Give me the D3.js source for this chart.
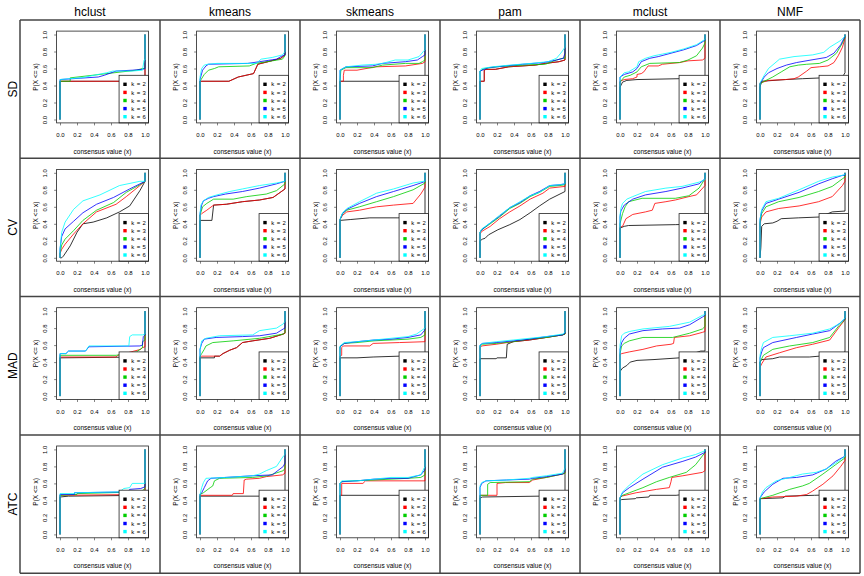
<!DOCTYPE html>
<html><head><meta charset="utf-8">
<script src="https://cdn.jsdelivr.net/npm/d3@7"></script>
<style>
body{margin:0;background:#fff}
svg{display:block}
text{font-family:"Liberation Sans", Arial, Helvetica, sans-serif;fill:#000}
</style>
</head><body>
<svg id="chart" width="864" height="576"></svg>
<script>
// ---------------- data ----------------
const methods = ["hclust", "kmeans", "skmeans", "pam", "mclust", "NMF"];
const topValueMethods = ["SD", "CV", "MAD", "ATC"];
const kLabels = ["k = 2", "k = 3", "k = 4", "k = 5", "k = 6"];
const xTicks = [0, 0.2, 0.4, 0.6, 0.8, 1.0];
const yTicks = [0, 0.2, 0.4, 0.6, 0.8, 1.0];
const xTitle = "consensus value (x)";
const yTitle = "P(X <= x)";

// ECDF curves, one list per row: [method][k] -> [[x, F(x)], ...]
const ecdfSD = [
  [ // hclust
    [[0,0.45],[0.97,0.45],[1,0.46]],
    [[0,0.45],[0.97,0.45],[1,0.46]],
    [[0,0.45],[0.12,0.45],[0.12,0.49],[0.9,0.58],[0.97,0.6],[1,0.6]],
    [[0,0.47],[0.15,0.48],[0.45,0.5],[0.52,0.52],[0.66,0.57],[0.85,0.58],[0.97,0.59],[1,0.6]],
    [[0,0.47],[0.1,0.48],[0.25,0.49],[0.35,0.51],[0.45,0.53],[0.55,0.55],[0.62,0.57],[0.85,0.57],[0.97,0.58],[0.99,0.7],[1,0.7]]
  ],
  [ // kmeans
    [[0,0.45],[0.34,0.45],[0.45,0.5],[0.63,0.54],[0.68,0.65],[0.8,0.68],[0.95,0.72],[1,0.76]],
    [[0,0.45],[0.34,0.45],[0.45,0.5],[0.63,0.54],[0.68,0.65],[0.8,0.68],[0.95,0.72],[1,0.76]],
    [[0,0.45],[0.05,0.53],[0.1,0.58],[0.17,0.6],[0.22,0.62],[0.58,0.63],[0.66,0.66],[0.85,0.69],[0.97,0.71],[1,0.75]],
    [[0,0.47],[0.03,0.58],[0.07,0.63],[0.1,0.65],[0.56,0.66],[0.7,0.68],[0.9,0.71],[0.97,0.75],[1,0.76]],
    [[0,0.5],[0.02,0.6],[0.05,0.64],[0.09,0.65],[0.2,0.66],[0.66,0.66],[0.72,0.71],[0.85,0.73],[0.97,0.76],[1,0.8]]
  ],
  [ // skmeans
    [[0,0.45],[1,0.45]],
    [[0,0.45],[0.04,0.45],[0.04,0.52],[0.05,0.58],[0.2,0.58],[0.42,0.62],[0.77,0.63],[0.97,0.66],[1,0.68]],
    [[0,0.45],[0.01,0.58],[0.07,0.61],[0.38,0.61],[0.5,0.64],[0.77,0.66],[0.93,0.66],[0.97,0.68],[1,0.7]],
    [[0,0.58],[0.07,0.62],[0.38,0.63],[0.5,0.66],[0.77,0.68],[0.91,0.7],[0.97,0.74],[1,0.76]],
    [[0,0.58],[0.07,0.62],[0.26,0.64],[0.42,0.65],[0.5,0.66],[0.65,0.7],[0.8,0.7],[0.93,0.74],[0.98,0.8],[1,0.82]]
  ],
  [ // pam
    [[0,0.45],[0.05,0.45],[0.05,0.58],[0.07,0.59],[0.18,0.59],[0.34,0.62],[0.65,0.64],[0.77,0.66],[0.93,0.68],[1,0.7]],
    [[0,0.45],[0.05,0.45],[0.05,0.58],[0.07,0.59],[0.18,0.59],[0.34,0.62],[0.65,0.64],[0.77,0.66],[0.93,0.68],[1,0.7]],
    [[0,0.57],[0.05,0.6],[0.2,0.62],[0.5,0.64],[0.77,0.65],[0.9,0.7],[0.97,0.72],[1,0.72]],
    [[0,0.57],[0.1,0.61],[0.3,0.63],[0.5,0.65],[0.75,0.67],[0.9,0.7],[0.98,0.72],[1,0.78]],
    [[0,0.57],[0.02,0.6],[0.15,0.62],[0.35,0.64],[0.6,0.66],[0.8,0.68],[0.9,0.72],[0.95,0.78],[1,0.85]]
  ],
  [ // mclust
    [[0,0.38],[0.03,0.44],[0.08,0.46],[0.2,0.47],[0.7,0.48],[1,0.5]],
    [[0,0.45],[0.05,0.47],[0.15,0.48],[0.2,0.5],[0.2,0.53],[0.25,0.54],[0.28,0.56],[0.33,0.63],[0.45,0.63],[0.5,0.65],[0.7,0.67],[0.8,0.69],[0.97,0.7],[1,0.72]],
    [[0,0.44],[0.05,0.5],[0.12,0.52],[0.2,0.56],[0.25,0.62],[0.35,0.66],[0.7,0.67],[0.8,0.7],[0.9,0.75],[0.97,0.84],[1,0.9]],
    [[0,0.5],[0.05,0.53],[0.15,0.56],[0.2,0.6],[0.25,0.68],[0.35,0.72],[0.45,0.74],[0.6,0.78],[0.75,0.82],[0.9,0.87],[0.98,0.92],[1,0.93]],
    [[0,0.5],[0.05,0.55],[0.1,0.56],[0.2,0.62],[0.22,0.68],[0.3,0.72],[0.4,0.75],[0.5,0.77],[0.6,0.79],[0.75,0.83],[0.9,0.88],[0.98,0.93],[1,0.94]]
  ],
  [ // NMF
    [[0,0.38],[0.02,0.45],[0.3,0.47],[0.5,0.48],[0.97,0.5],[1,0.55]],
    [[0,0.43],[0.1,0.46],[0.3,0.47],[0.4,0.48],[0.45,0.5],[0.55,0.57],[0.6,0.61],[0.7,0.62],[0.8,0.63],[0.87,0.67],[0.92,0.75],[0.97,0.85],[1,0.96]],
    [[0,0.42],[0.05,0.45],[0.15,0.5],[0.25,0.56],[0.35,0.62],[0.45,0.64],[0.55,0.65],[0.7,0.66],[0.8,0.7],[0.9,0.78],[0.97,0.9],[1,0.97]],
    [[0,0.42],[0.05,0.5],[0.1,0.55],[0.2,0.6],[0.31,0.64],[0.43,0.67],[0.6,0.7],[0.78,0.73],[0.87,0.78],[0.95,0.88],[1,0.98]],
    [[0,0.43],[0.05,0.52],[0.1,0.6],[0.23,0.71],[0.4,0.74],[0.62,0.76],[0.75,0.79],[0.82,0.85],[0.95,0.93],[1,0.98]]
  ]
];

const ecdfCV = [
  [ // hclust
    [[0.02,0],[0.04,0.02],[0.12,0.14],[0.2,0.3],[0.27,0.4],[0.39,0.42],[0.55,0.47],[0.7,0.54],[0.82,0.61],[0.94,0.79],[1,0.9]],
    [[0,0.05],[0.02,0.1],[0.06,0.16],[0.16,0.28],[0.27,0.4],[0.43,0.54],[0.66,0.63],[0.78,0.72],[0.94,0.85],[1,0.9]],
    [[0,0.05],[0.02,0.15],[0.06,0.22],[0.16,0.32],[0.27,0.44],[0.43,0.56],[0.63,0.65],[0.78,0.77],[0.94,0.86],[1,0.9]],
    [[0,0.1],[0.02,0.25],[0.06,0.34],[0.16,0.43],[0.27,0.53],[0.43,0.63],[0.63,0.71],[0.82,0.81],[0.94,0.87],[1,0.9]],
    [[0,0.1],[0.02,0.3],[0.06,0.42],[0.16,0.57],[0.27,0.67],[0.47,0.74],[0.7,0.85],[0.94,0.9],[1,0.9]]
  ],
  [ // kmeans
    [[0,0.44],[0.14,0.44],[0.16,0.62],[0.31,0.63],[0.5,0.66],[0.7,0.68],[0.86,0.71],[1,0.81]],
    [[0,0.5],[0.02,0.52],[0.08,0.56],[0.16,0.62],[0.31,0.63],[0.5,0.66],[0.7,0.68],[0.86,0.71],[1,0.81]],
    [[0,0.5],[0.03,0.6],[0.08,0.64],[0.16,0.69],[0.39,0.69],[0.55,0.72],[0.78,0.75],[0.9,0.79],[1,0.87]],
    [[0,0.52],[0.02,0.62],[0.04,0.67],[0.1,0.7],[0.16,0.72],[0.3,0.75],[0.5,0.78],[0.7,0.82],[0.9,0.87],[1,0.9]],
    [[0,0.52],[0.01,0.62],[0.04,0.67],[0.1,0.71],[0.2,0.74],[0.35,0.78],[0.5,0.81],[0.7,0.85],[0.9,0.88],[1,0.9]]
  ],
  [ // skmeans
    [[0,0.44],[0.12,0.45],[0.35,0.47],[0.68,0.47],[1,0.48]],
    [[0,0.45],[0.03,0.5],[0.08,0.54],[0.23,0.56],[0.43,0.6],[0.63,0.62],[0.86,0.64],[0.95,0.75],[1,0.83]],
    [[0,0.45],[0.03,0.52],[0.08,0.56],[0.23,0.6],[0.43,0.66],[0.63,0.72],[0.86,0.8],[1,0.88]],
    [[0,0.45],[0.03,0.52],[0.08,0.57],[0.23,0.64],[0.43,0.72],[0.63,0.78],[0.86,0.85],[0.98,0.89],[1,0.9]],
    [[0,0.45],[0.03,0.53],[0.08,0.58],[0.23,0.66],[0.43,0.76],[0.63,0.81],[0.86,0.88],[0.98,0.9],[1,0.9]]
  ],
  [ // pam
    [[0,0.2],[0.03,0.22],[0.06,0.23],[0.1,0.27],[0.21,0.33],[0.35,0.39],[0.47,0.45],[0.59,0.53],[0.7,0.61],[0.82,0.69],[1,0.78]],
    [[0,0.28],[0.02,0.31],[0.12,0.37],[0.23,0.46],[0.35,0.54],[0.47,0.61],[0.59,0.69],[0.74,0.76],[0.82,0.82],[1,0.84]],
    [[0,0.3],[0.02,0.33],[0.12,0.4],[0.23,0.48],[0.35,0.58],[0.47,0.64],[0.59,0.72],[0.7,0.77],[0.82,0.84],[0.94,0.85],[1,0.86]],
    [[0,0.3],[0.02,0.33],[0.12,0.41],[0.23,0.49],[0.35,0.59],[0.47,0.65],[0.59,0.73],[0.7,0.78],[0.82,0.85],[0.94,0.86],[1,0.87]],
    [[0,0.3],[0.02,0.34],[0.12,0.41],[0.23,0.5],[0.35,0.59],[0.47,0.66],[0.59,0.73],[0.7,0.77],[0.82,0.85],[0.94,0.86],[1,0.87]]
  ],
  [ // mclust
    [[0,0.35],[0.05,0.37],[0.1,0.38],[0.65,0.39],[1,0.4]],
    [[0,0.36],[0.03,0.37],[0.07,0.46],[0.15,0.51],[0.3,0.54],[0.38,0.56],[0.41,0.64],[0.54,0.66],[0.65,0.68],[0.81,0.72],[0.9,0.74],[1,0.85]],
    [[0,0.4],[0.03,0.52],[0.06,0.6],[0.1,0.66],[0.26,0.7],[0.65,0.7],[0.81,0.73],[0.93,0.82],[1,0.93]],
    [[0,0.48],[0.01,0.55],[0.05,0.62],[0.15,0.69],[0.3,0.74],[0.54,0.78],[0.73,0.82],[0.93,0.87],[1,0.93]],
    [[0,0.5],[0.01,0.58],[0.03,0.64],[0.08,0.69],[0.15,0.72],[0.3,0.78],[0.54,0.82],[0.73,0.84],[0.93,0.89],[1,0.92]]
  ],
  [ // NMF
    [[0.01,0.12],[0.02,0.37],[0.05,0.4],[0.15,0.41],[0.2,0.43],[0.25,0.46],[0.45,0.47],[0.7,0.48],[0.85,0.54],[1,0.55]],
    [[0,0.4],[0.02,0.48],[0.07,0.54],[0.22,0.58],[0.46,0.61],[0.69,0.66],[0.85,0.72],[0.97,0.85],[1,0.9]],
    [[0,0.42],[0.02,0.52],[0.07,0.6],[0.22,0.66],[0.46,0.71],[0.69,0.78],[0.85,0.84],[0.97,0.93],[1,0.95]],
    [[0,0.45],[0.02,0.55],[0.07,0.64],[0.22,0.69],[0.46,0.77],[0.69,0.87],[0.85,0.93],[0.97,0.97],[1,0.97]],
    [[0,0.45],[0.02,0.57],[0.07,0.66],[0.22,0.7],[0.46,0.8],[0.69,0.9],[0.85,0.95],[0.97,0.97],[1,0.98]]
  ]
];

const ecdfMAD = [
  [ // hclust
    [[0,0.45],[0.97,0.46],[1,0.5]],
    [[0,0.46],[0.66,0.46],[0.68,0.48],[0.95,0.55],[0.97,0.57],[1,0.58]],
    [[0,0.48],[0.66,0.48],[0.9,0.52],[0.97,0.57],[0.97,0.64],[1,0.66]],
    [[0,0.5],[0.07,0.5],[0.1,0.53],[0.3,0.53],[0.34,0.58],[0.94,0.59],[0.97,0.6],[0.98,0.7],[1,0.72]],
    [[0,0.5],[0.07,0.5],[0.1,0.53],[0.3,0.53],[0.34,0.59],[0.81,0.59],[0.82,0.7],[0.85,0.72],[0.97,0.72],[1,0.73]]
  ],
  [ // kmeans
    [[0,0.45],[0.17,0.45],[0.17,0.47],[0.23,0.47],[0.27,0.5],[0.35,0.54],[0.43,0.57],[0.5,0.63],[0.62,0.65],[0.82,0.68],[0.98,0.73],[1,0.74]],
    [[0,0.46],[0.02,0.47],[0.23,0.47],[0.27,0.5],[0.35,0.54],[0.43,0.57],[0.5,0.63],[0.62,0.65],[0.82,0.68],[0.98,0.73],[1,0.74]],
    [[0,0.47],[0.02,0.5],[0.05,0.55],[0.07,0.59],[0.15,0.63],[0.39,0.65],[0.7,0.68],[0.98,0.73],[1,0.75]],
    [[0,0.55],[0.02,0.62],[0.05,0.67],[0.19,0.69],[0.5,0.7],[0.7,0.71],[0.9,0.74],[0.98,0.79],[1,0.8]],
    [[0,0.55],[0.02,0.65],[0.07,0.68],[0.23,0.71],[0.62,0.72],[0.7,0.77],[0.9,0.8],[0.98,0.85],[1,0.88]]
  ],
  [ // skmeans
    [[0,0.45],[0.2,0.45],[0.39,0.46],[0.7,0.47],[1,0.48]],
    [[0,0.47],[0.02,0.48],[0.02,0.57],[0.04,0.59],[0.35,0.59],[0.39,0.62],[0.7,0.63],[1,0.64]],
    [[0,0.58],[0.05,0.62],[0.2,0.63],[0.4,0.65],[0.6,0.66],[0.8,0.67],[0.95,0.69],[1,0.72]],
    [[0,0.58],[0.05,0.62],[0.2,0.64],[0.4,0.66],[0.6,0.67],[0.8,0.69],[0.95,0.72],[1,0.78]],
    [[0,0.59],[0.05,0.63],[0.2,0.64],[0.4,0.66],[0.6,0.68],[0.8,0.7],[0.9,0.73],[1,0.8]]
  ],
  [ // pam
    [[0,0.44],[0.19,0.44],[0.2,0.45],[0.31,0.45],[0.32,0.61],[0.39,0.64],[0.58,0.66],[0.78,0.69],[0.97,0.72],[1,0.73]],
    [[0,0.57],[0.02,0.59],[0.19,0.61],[0.39,0.64],[0.58,0.66],[0.78,0.69],[0.97,0.72],[1,0.73]],
    [[0,0.59],[0.03,0.61],[0.19,0.62],[0.39,0.64],[0.58,0.67],[0.78,0.69],[0.97,0.72],[1,0.73]],
    [[0,0.6],[0.03,0.62],[0.19,0.63],[0.39,0.65],[0.58,0.67],[0.78,0.7],[0.97,0.72],[1,0.74]],
    [[0,0.6],[0.03,0.62],[0.19,0.64],[0.39,0.66],[0.58,0.68],[0.78,0.7],[0.97,0.73],[1,0.75]]
  ],
  [ // mclust
    [[0,0.29],[0.03,0.33],[0.08,0.36],[0.12,0.4],[0.2,0.42],[0.4,0.43],[0.7,0.45],[0.95,0.53],[1,0.53]],
    [[0,0.49],[0.02,0.5],[0.11,0.52],[0.27,0.55],[0.43,0.59],[0.6,0.61],[0.63,0.62],[0.64,0.69],[0.82,0.71],[0.97,0.75],[1,0.76]],
    [[0,0.5],[0.02,0.59],[0.05,0.62],[0.11,0.65],[0.27,0.69],[0.62,0.69],[0.82,0.74],[0.97,0.79],[1,0.82]],
    [[0,0.55],[0.02,0.63],[0.05,0.68],[0.11,0.73],[0.27,0.77],[0.5,0.79],[0.7,0.8],[0.82,0.84],[0.97,0.93],[1,0.95]],
    [[0,0.6],[0.02,0.71],[0.05,0.74],[0.11,0.76],[0.27,0.79],[0.58,0.82],[0.82,0.87],[0.97,0.95],[1,0.96]]
  ],
  [ // NMF
    [[0,0.4],[0.02,0.43],[0.15,0.44],[0.23,0.46],[0.58,0.46],[0.7,0.47],[0.95,0.5],[1,0.52]],
    [[0,0.34],[0.02,0.38],[0.07,0.46],[0.23,0.51],[0.43,0.57],[0.62,0.61],[0.82,0.66],[0.93,0.81],[1,0.9]],
    [[0,0.4],[0.04,0.48],[0.15,0.55],[0.35,0.59],[0.62,0.63],[0.82,0.69],[0.93,0.83],[1,0.9]],
    [[0,0.45],[0.02,0.52],[0.04,0.57],[0.15,0.63],[0.43,0.69],[0.62,0.73],[0.82,0.77],[0.93,0.85],[1,0.91]],
    [[0,0.48],[0.02,0.57],[0.04,0.63],[0.15,0.69],[0.35,0.71],[0.62,0.74],[0.82,0.79],[0.93,0.85],[1,0.92]]
  ]
];

const ecdfATC = [
  [ // hclust
    [[0,0.44],[0.1,0.45],[1,0.46]],
    [[0,0.46],[0.97,0.47],[1,0.5]],
    [[0,0.46],[0.2,0.47],[0.2,0.48],[0.95,0.5],[1,0.54]],
    [[0,0.47],[0.17,0.47],[0.17,0.49],[0.8,0.5],[0.82,0.53],[0.95,0.54],[1,0.56]],
    [[0,0.48],[0.17,0.48],[0.17,0.49],[0.7,0.5],[0.75,0.54],[0.82,0.55],[0.85,0.6],[0.99,0.6],[1,0.6]]
  ],
  [ // kmeans
    [[0,0.45],[1,0.45]],
    [[0,0.46],[0.38,0.46],[0.39,0.48],[0.51,0.48],[0.52,0.64],[0.55,0.65],[0.7,0.66],[0.78,0.68],[0.97,0.7],[1,0.72]],
    [[0,0.47],[0.04,0.49],[0.12,0.55],[0.15,0.57],[0.17,0.63],[0.23,0.66],[0.62,0.67],[0.8,0.69],[0.98,0.75],[1,0.78]],
    [[0,0.47],[0.02,0.49],[0.05,0.55],[0.09,0.63],[0.13,0.66],[0.62,0.69],[0.85,0.7],[0.98,0.8],[1,0.84]],
    [[0,0.47],[0.02,0.55],[0.04,0.61],[0.07,0.66],[0.3,0.67],[0.62,0.69],[0.7,0.71],[0.78,0.75],[0.9,0.8],[0.98,0.92],[1,0.94]]
  ],
  [ // skmeans
    [[0,0.46],[1,0.46]],
    [[0,0.46],[0.02,0.46],[0.02,0.6],[0.27,0.6],[0.3,0.63],[1,0.63]],
    [[0,0.6],[0.02,0.62],[0.15,0.63],[0.4,0.64],[0.6,0.65],[0.8,0.66],[0.95,0.67],[1,0.7]],
    [[0,0.6],[0.02,0.62],[0.2,0.63],[0.4,0.65],[0.6,0.66],[0.8,0.66],[0.95,0.7],[1,0.76]],
    [[0,0.6],[0.02,0.63],[0.2,0.63],[0.4,0.65],[0.6,0.67],[0.8,0.67],[0.95,0.7],[1,0.8]]
  ],
  [ // pam
    [[0,0.43],[0.03,0.44],[0.7,0.45],[1,0.46]],
    [[0,0.46],[0.2,0.46],[0.2,0.6],[0.3,0.61],[0.58,0.61],[0.62,0.64],[0.78,0.67],[0.97,0.71],[1,0.72]],
    [[0,0.46],[0.09,0.46],[0.09,0.59],[0.12,0.61],[0.58,0.62],[0.62,0.65],[0.78,0.67],[0.97,0.71],[1,0.72]],
    [[0,0.55],[0.02,0.6],[0.07,0.63],[0.31,0.64],[0.58,0.65],[0.62,0.66],[0.78,0.68],[0.97,0.71],[1,0.74]],
    [[0,0.57],[0.02,0.61],[0.07,0.63],[0.31,0.64],[0.58,0.66],[0.62,0.67],[0.78,0.69],[0.97,0.72],[1,0.78]]
  ],
  [ // mclust
    [[0,0.4],[0.02,0.41],[0.18,0.42],[0.19,0.43],[0.34,0.44],[0.35,0.46],[0.66,0.46],[1,0.5]],
    [[0,0.43],[0.02,0.45],[0.19,0.49],[0.43,0.53],[0.58,0.55],[0.6,0.62],[0.61,0.67],[0.74,0.69],[0.97,0.73],[1,0.75]],
    [[0,0.43],[0.03,0.46],[0.11,0.49],[0.27,0.55],[0.43,0.62],[0.58,0.67],[0.78,0.73],[0.89,0.82],[0.99,0.95],[1,0.96]],
    [[0,0.43],[0.03,0.49],[0.11,0.55],[0.27,0.65],[0.5,0.79],[0.74,0.86],[0.89,0.91],[0.99,0.96],[1,0.96]],
    [[0,0.43],[0.03,0.5],[0.11,0.58],[0.27,0.71],[0.5,0.82],[0.74,0.9],[0.89,0.94],[0.99,0.98],[1,0.98]]
  ],
  [ // NMF
    [[0,0.42],[0.27,0.43],[0.3,0.45],[0.64,0.46],[1,0.47]],
    [[0,0.42],[0.15,0.44],[0.43,0.45],[0.55,0.47],[0.62,0.51],[0.74,0.59],[0.86,0.69],[0.95,0.8],[1,0.87]],
    [[0,0.42],[0.15,0.46],[0.35,0.53],[0.5,0.57],[0.58,0.6],[0.74,0.71],[0.89,0.82],[1,0.9]],
    [[0,0.43],[0.05,0.5],[0.15,0.59],[0.27,0.66],[0.43,0.67],[0.62,0.7],[0.78,0.77],[0.89,0.86],[1,0.92]],
    [[0,0.43],[0.03,0.5],[0.07,0.55],[0.19,0.63],[0.35,0.67],[0.5,0.71],[0.66,0.73],[0.78,0.77],[0.89,0.84],[1,0.92]]
  ]
];

const rowsData = [ecdfSD, ecdfCV, ecdfMAD, ecdfATC];

// ---------------- styling / layout ----------------
const kColors = ["#000000", "#FF0000", "#00CD00", "#0000FF", "#00FFFF"];
const gridLeft = 20, gridTop = 20, cellW = 140, cellH = 138.3;

const svg = d3.select("#chart");

// scales within a panel (relative to panel origin)
const x = d3.scaleLinear().domain([0, 1]).range([40, 125]);
const y = d3.scaleLinear().domain([0, 1]).range([99.5, 14.5]);
const boxL = x(-0.04), boxR = x(1.04), boxT = y(1.04), boxB = y(-0.04);
const legTop = y(0.52), legLeft = x(0.695);

const line = d3.line().x(d => x(d[0])).y(d => y(d[1]));

rowsData.forEach((rowData, r) => {
  methods.forEach((m, c) => {
    const g = svg.append("g")
      .attr("transform", `translate(${gridLeft + c * cellW},${gridTop + r * cellH})`);

    // curves
    rowData[c].forEach((pts, k) => {
      const full = [[0, 0], ...pts, [1, 1]];
      g.append("path")
        .datum(full)
        .attr("d", line)
        .attr("fill", "none")
        .attr("stroke", kColors[k])
        .attr("stroke-width", 0.8);
    });

    // legend (bottomright, white background)
    const lg = g.append("g");
    lg.append("rect")
      .attr("x", legLeft).attr("y", legTop)
      .attr("width", boxR - legLeft).attr("height", boxB - legTop)
      .attr("fill", "#fff").attr("stroke", "#222").attr("stroke-width", 0.8);
    kLabels.forEach((lab, k) => {
      const ly = legTop + 9 + k * 8.1;
      lg.append("rect")
        .attr("x", 103.3).attr("y", ly - 1.7)
        .attr("width", 3.4).attr("height", 3.4)
        .attr("fill", kColors[k]);
      lg.append("text")
        .attr("x", 111.3).attr("y", ly + 2.1)
        .attr("font-size", 6)
        .attr("letter-spacing", 0.35)
        .text(lab);
    });

    // plot box
    g.append("rect")
      .attr("x", boxL).attr("y", boxT)
      .attr("width", boxR - boxL).attr("height", boxB - boxT)
      .attr("fill", "none").attr("stroke", "#222").attr("stroke-width", 0.8);

    // x axis
    const xa = g.append("g")
      .attr("transform", `translate(0,${boxB})`)
      .call(d3.axisBottom(x).tickValues(xTicks).tickFormat(d3.format(".1f")).tickSize(2.5).tickPadding(7.5));
    xa.select(".domain").remove();
    xa.selectAll("line").attr("stroke", "#333").attr("stroke-width", 0.6);
    xa.selectAll("text").attr("font-size", 6).attr("font-family", "Liberation Sans, Arial, sans-serif").attr("fill", "#000");

    // y axis with rotated labels
    const ya = g.append("g")
      .attr("transform", `translate(${boxL},0)`)
      .call(d3.axisLeft(y).tickValues(yTicks).tickFormat(d3.format(".1f")).tickSize(2.5));
    ya.select(".domain").remove();
    ya.selectAll("line").attr("stroke", "#333").attr("stroke-width", 0.6);
    ya.selectAll("text")
      .attr("x", 0).attr("dy", null).attr("y", 0)
      .attr("transform", `translate(${26.7 - boxL},0) rotate(-90)`)
      .attr("text-anchor", "middle")
      .attr("font-size", 6).attr("font-family", "Liberation Sans, Arial, sans-serif").attr("fill", "#000");

    // axis titles
    g.append("text")
      .attr("x", (boxL + boxR) / 2).attr("y", 133.5)
      .attr("text-anchor", "middle").attr("font-size", 6.5)
      .text(xTitle);
    g.append("text")
      .attr("transform", `translate(17.5,${(boxT + boxB) / 2}) rotate(-90)`)
      .attr("text-anchor", "middle").attr("font-size", 6.5)
      .text(yTitle);
  });
});

// panel grid lines
const gridG = svg.append("g");
for (let r = 0; r <= topValueMethods.length; r++) {
  gridG.append("line")
    .attr("x1", gridLeft).attr("x2", gridLeft + methods.length * cellW)
    .attr("y1", gridTop + r * cellH).attr("y2", gridTop + r * cellH)
    .attr("stroke", "#444").attr("stroke-width", 1.5);
}
for (let c = 0; c <= methods.length; c++) {
  gridG.append("line")
    .attr("x1", gridLeft + c * cellW).attr("x2", gridLeft + c * cellW)
    .attr("y1", gridTop).attr("y2", gridTop + topValueMethods.length * cellH)
    .attr("stroke", "#444").attr("stroke-width", 1.5);
}

// column titles
methods.forEach((m, c) => {
  svg.append("text")
    .attr("x", gridLeft + c * cellW + cellW / 2).attr("y", 16)
    .attr("text-anchor", "middle").attr("font-size", 12)
    .text(m);
});
// row titles
topValueMethods.forEach((t, r) => {
  svg.append("text")
    .attr("transform", `translate(16.5,${gridTop + r * cellH + cellH / 2}) rotate(-90)`)
    .attr("text-anchor", "middle").attr("font-size", 12)
    .text(t);
});
</script>
</body></html>
